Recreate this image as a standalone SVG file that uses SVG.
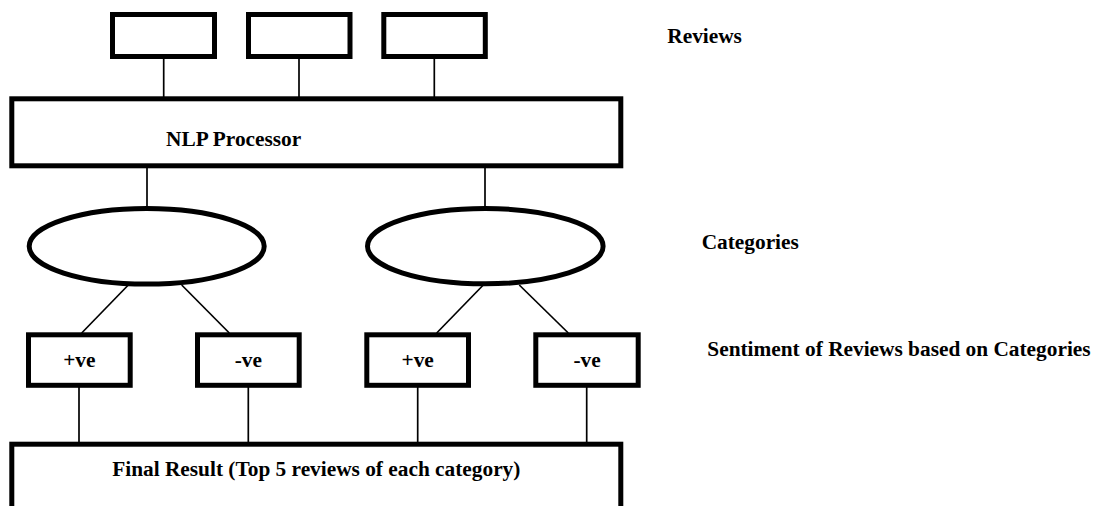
<svg xmlns="http://www.w3.org/2000/svg" width="1093" height="506" viewBox="0 0 1093 506">
<style>
.box{fill:#fff;stroke:#000;stroke-width:5}
.link{stroke:#000;stroke-width:1.7;fill:none}
.t{font-family:"Liberation Serif","Times New Roman",serif;font-weight:bold;font-size:21.33px;fill:#000}
</style>
<rect width="1093" height="506" fill="#fff"/>
<g id="connectors">
<line class="link" x1="163.7" y1="58" x2="163.7" y2="98"/>
<line class="link" x1="299" y1="58" x2="299" y2="98"/>
<line class="link" x1="434.3" y1="58" x2="434.3" y2="98"/>
<line class="link" x1="147" y1="167" x2="147" y2="208"/>
<line class="link" x1="485" y1="167" x2="485" y2="208"/>
<line class="link" x1="128.3" y1="285" x2="81.7" y2="333"/>
<line class="link" x1="181.7" y1="285" x2="229.3" y2="333"/>
<line class="link" x1="483.3" y1="285" x2="436.7" y2="333"/>
<line class="link" x1="519.3" y1="285" x2="568.3" y2="333"/>
<line class="link" x1="79" y1="387" x2="79" y2="443"/>
<line class="link" x1="248.3" y1="387" x2="248.3" y2="443"/>
<line class="link" x1="417.7" y1="387" x2="417.7" y2="443"/>
<line class="link" x1="586.7" y1="387" x2="586.7" y2="443"/>
</g>
<g id="review1"><rect class="box" x="112.5" y="14.5" width="102" height="42"/></g>
<g id="review2"><rect class="box" x="248.5" y="14.5" width="101.5" height="42"/></g>
<g id="review3"><rect class="box" x="383.8" y="14.5" width="101.5" height="42"/></g>
<g id="nlp"><rect class="box" x="11.8" y="98.8" width="609" height="67"/>
<text class="t" x="166" y="145.5">NLP Processor</text></g>
<g id="cat1"><ellipse class="box" cx="146.7" cy="246.3" rx="117.5" ry="37.8"/></g>
<g id="cat2"><ellipse class="box" cx="485.3" cy="246.2" rx="117.8" ry="37.6"/></g>
<g id="pos1"><rect class="box" x="28.5" y="334.8" width="101.7" height="50.5"/>
<text class="t" x="79.3" y="367" text-anchor="middle">+ve</text></g>
<g id="neg1"><rect class="box" x="197.5" y="334.8" width="101.7" height="50.5"/>
<text class="t" x="248.3" y="367" text-anchor="middle">-ve</text></g>
<g id="pos2"><rect class="box" x="366.8" y="334.8" width="101.7" height="50.5"/>
<text class="t" x="417.7" y="367" text-anchor="middle">+ve</text></g>
<g id="neg2"><rect class="box" x="535.8" y="334.8" width="102.4" height="50.5"/>
<text class="t" x="587" y="367" text-anchor="middle">-ve</text></g>
<g id="final"><rect class="box" x="11.8" y="444.2" width="609" height="80"/>
<text class="t" x="316.3" y="476" text-anchor="middle">Final Result (Top 5 reviews of each category)</text></g>
<g id="labels">
<text class="t" x="667.3" y="43.3">Reviews</text>
<text class="t" x="701.7" y="248.7">Categories</text>
<text class="t" x="707.3" y="356">Sentiment of Reviews based on Categories</text>
</g>
</svg>
